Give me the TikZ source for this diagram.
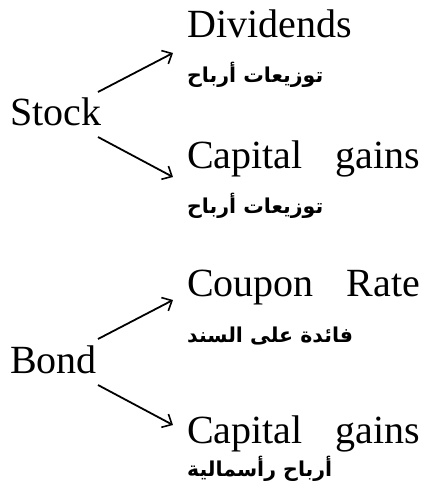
\documentclass[tikz,border=0pt]{standalone}
\usepackage{fontspec}
\setmainfont{Liberation Serif}
\newfontfamily\arabicfont[Script=Arabic]{DejaVu Sans}
\TeXXeTstate=1
\usetikzlibrary{arrows.meta}
\begin{document}
\begin{tikzpicture}[x=1pt,y=-1pt,
  lat/.style={anchor=base west,inner sep=0pt,font=\fontsize{40}{46}\selectfont},
  ar/.style={anchor=base west,inner sep=0pt,font=\arabicfont\bfseries\fontsize{20.5}{24}\selectfont},
  arr/.style={line width=1.8pt,-{Straight Barb[length=8pt,width=15pt,line width=1.6pt]}}]
\useasboundingbox (0,0) rectangle (425,491);
\node[lat] (stock) at (10,125) {Stock};
\node[lat] (bond) at (10,373) {Bond};
\node[lat] (div) at (187,37) {Dividends};
\node[ar] (divar) at (187,82) {\beginR توزيعات أرباح\endR};
\node[lat] (cg1) at (187,168) {\makebox[233pt]{Capital\hfill gains}};
\node[ar] (cg1ar) at (187,213) {\beginR توزيعات أرباح\endR};
\node[lat] (cr) at (187,296) {\makebox[233pt]{Coupon\hfill Rate}};
\node[ar] (crar) at (187,342) {\beginR فائدة على السند\endR};
\node[lat] (cg2) at (187,443) {\makebox[233pt]{Capital\hfill gains}};
\node[ar] (cg2ar) at (187,476) {\beginR أرباح رأسمالية\endR};
\coordinate (s1) at (98,92); \coordinate (e1) at (173,53);
\coordinate (s2) at (98,137); \coordinate (e2) at (173,177);
\coordinate (s3) at (98,339); \coordinate (e3) at (173,300);
\coordinate (s4) at (98,385); \coordinate (e4) at (173,425);
\draw[arr] (s1) -- (e1);
\draw[arr] (s2) -- (e2);
\draw[arr] (s3) -- (e3);
\draw[arr] (s4) -- (e4);
\end{tikzpicture}
\end{document}
